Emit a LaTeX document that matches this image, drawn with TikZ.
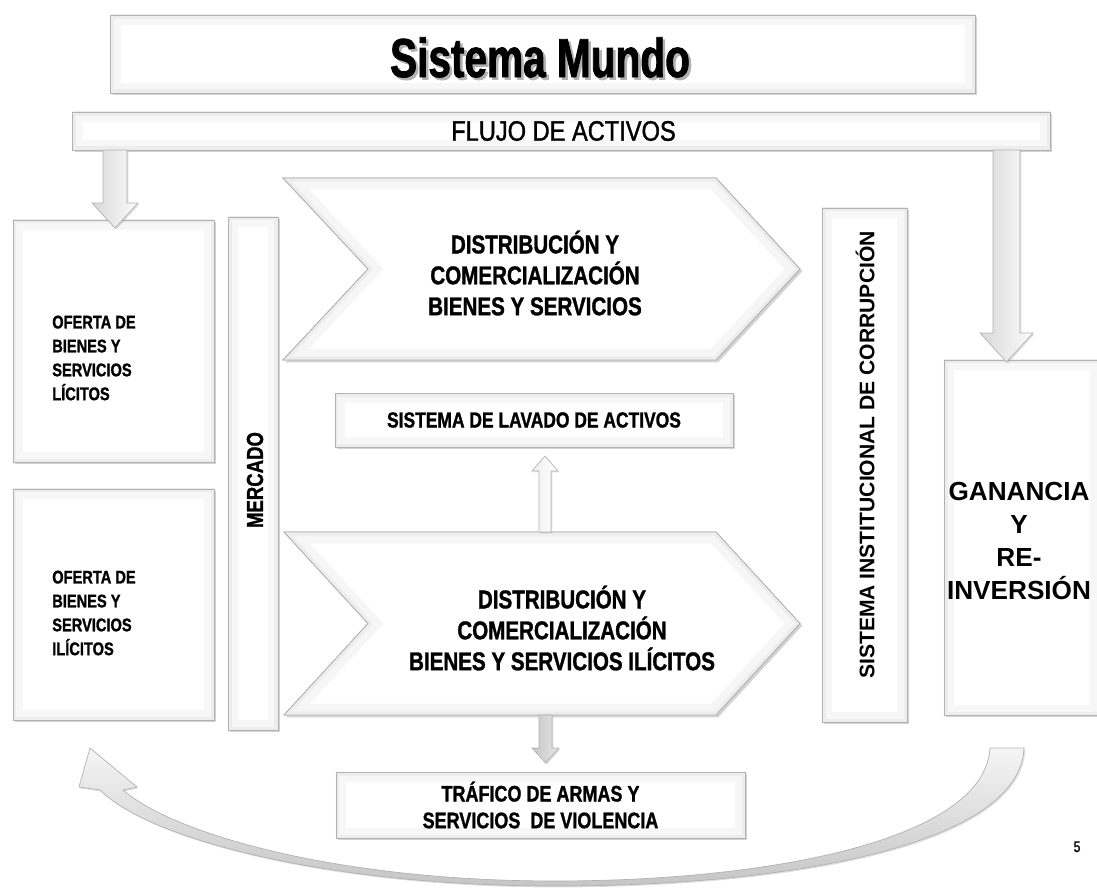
\documentclass[tikz,border=0pt]{standalone}
\usepackage{fontspec}
\setmainfont{Liberation Sans}
\newfontfamily\nar[FakeStretch=0.8, FakeBold=1.2]{Liberation Sans}
\newfontfamily\narr[FakeStretch=0.84, FakeBold=1.3]{Liberation Sans}
\newfontfamily\narx[FakeStretch=0.74, FakeBold=1.5]{Liberation Sans}
\usetikzlibrary{shadows,calc}
\tikzset{
  bevel/.style={path picture={
      \draw[line width=14pt, gray!6] (path picture bounding box.south west) rectangle (path picture bounding box.north east);
      \draw[line width=5pt, gray!14] (path picture bounding box.south west) rectangle (path picture bounding box.north east);}},
  box/.style={draw=gray!60, line width=0.6pt, fill=white, inner sep=0pt, align=center,
      drop shadow={shadow xshift=1.6pt, shadow yshift=-1.6pt, opacity=0.35}, bevel},
  blk/.style={draw=gray!60, line width=0.5pt, left color=gray!30, right color=gray!3,
      drop shadow={shadow xshift=1pt, shadow yshift=-1pt, opacity=0.25}},
  chev/.style={draw=gray!60, line width=0.6pt, fill=white,
      drop shadow={shadow xshift=1.6pt, shadow yshift=-1.6pt, opacity=0.35}},
  txt/.style={inner sep=0pt, align=center},
  small/.style={font=\nar\bfseries\fontsize{13}{17}\selectfont},
  mid/.style={font=\nar\bfseries\fontsize{18.3}{22}\selectfont},
}
\newcommand\chevU{(283,178) -- (716,178) -- (800,269) -- (716,360) -- (283,360) -- (368,269) -- cycle}
\newcommand\chevL{(284,532) -- (716,532) -- (800,623.5) -- (716,715) -- (284,715) -- (368,623.5) -- cycle}
\newcommand\titletext{Sistema Mundo}
\begin{document}
\begin{tikzpicture}[x=0.025cm, y=-0.025cm]
\useasboundingbox (0,0) rectangle (1097,889);

% top boxes
\node[box, minimum width=21.6cm, minimum height=1.95cm] (mundo) at (543,54) {};
\node[txt, anchor=base, font=\narx\bfseries\fontsize{39}{39}\selectfont] (title) at (540,77)
  {\rlap{\kern1.8pt\raisebox{-1.8pt}{\color{gray!60}\titletext}}\titletext};

\node[box, minimum width=24.425cm, minimum height=0.95cm, font=\narr\fontsize{20}{24}\selectfont] (flujo) at (561.5,131) {\hspace*{0.1cm}FLUJO DE ACTIVOS};

% left boxes
\node[box, minimum width=5.025cm, minimum height=6.05cm] (lic) at (113.5,341) {};
\node[txt, small, anchor=west, align=left] (lictxt) at (52,358) {OFERTA DE\\BIENES Y\\SERVICIOS\\LÍCITOS};
\node[box, minimum width=5.025cm, minimum height=5.775cm] (ilic) at (113.5,604.5) {};
\node[txt, small, anchor=west, align=left] (ilictxt) at (52,613) {OFERTA DE\\BIENES Y\\SERVICIOS\\ILÍCITOS};

\node[box, minimum width=1.25cm, minimum height=12.825cm] (mercado) at (253,473.5) {};
\node[txt, rotate=90, font=\nar\bfseries\fontsize{16.5}{18}\selectfont] (mertxt) at (255,480) {MERCADO};

% chevrons
\path[chev] \chevU;
\begin{scope}
  \clip \chevU;
  \draw[line width=16pt, gray!7] \chevU;
  \draw[line width=5pt, gray!14] \chevU;
\end{scope}
\draw[gray!60, line width=0.6pt] \chevU;
\node[txt, mid] (dist1) at (535,273) {DISTRIBUCIÓN Y\\COMERCIALIZACIÓN\\BIENES Y SERVICIOS};

\path[chev] \chevL;
\begin{scope}
  \clip \chevL;
  \draw[line width=16pt, gray!7] \chevL;
  \draw[line width=5pt, gray!14] \chevL;
\end{scope}
\draw[gray!60, line width=0.6pt] \chevL;
\node[txt, mid] (dist2) at (562,628) {DISTRIBUCIÓN Y\\COMERCIALIZACIÓN\\BIENES Y SERVICIOS ILÍCITOS};

\node[box, minimum width=9.95cm, minimum height=1.35cm, font=\nar\bfseries\fontsize{15.5}{18}\selectfont] (lavado) at (534,420) {SISTEMA DE LAVADO DE ACTIVOS};

\node[box, minimum width=10.225cm, minimum height=1.65cm, font=\nar\bfseries\fontsize{16}{19}\selectfont] (trafico) at (540.5,805) {TRÁFICO DE ARMAS Y\\SERVICIOS \ DE VIOLENCIA};

% right boxes
\node[box, minimum width=2.125cm, minimum height=12.85cm] (sic) at (864.5,465) {};
\node[txt, rotate=90, font=\bfseries\fontsize{15}{18}\selectfont] (sictxt) at (865,455) {SISTEMA INSTITUCIONAL DE CORRUPCIÓN};

\node[box, minimum width=3.9cm, minimum height=8.875cm] (gan) at (1022,537.5) {};
\node[txt, font=\bfseries\fontsize{18.6}{23.4}\selectfont] (gantxt) at (1019,541) {GANANCIA\\Y\\RE-\\INVERSIÓN};

% block arrows
\path[blk] (103,150) -- (103,203) -- (92,203) -- (115,228) -- (138,203) -- (127,203) -- (127,150) -- cycle;
\path[blk] (993,150) -- (993,333) -- (980,333) -- (1006.5,362) -- (1033,333) -- (1020,333) -- (1020,150) -- cycle;
\path[blk, left color=gray!12, right color=white] (539,532) -- (539,471) -- (532,471) -- (545,456) -- (558,471) -- (551,471) -- (551,532) -- cycle;
\path[blk, left color=gray!45, right color=gray!20] (539,715) -- (539,748) -- (532,748) -- (545.5,763) -- (559,748) -- (552,748) -- (552,715) -- cycle;

% curved return arrow
\path[draw=gray!60, line width=0.5pt, top color=gray!8, bottom color=gray!45,
      drop shadow={shadow xshift=1pt, shadow yshift=-1pt, opacity=0.25}]
  (1024,748) .. controls (1020,845) and (790,886) .. (555,886)
  .. controls (330,886) and (150,840) .. (100,790)
  -- (79,787) -- (90,748) -- (137,787) -- (123,790)
  .. controls (175,835) and (340,881) .. (555,881)
  .. controls (770,881) and (985,840) .. (990,748) -- cycle;

\node[txt, anchor=base, font=\nar\fontsize{11}{12}\selectfont] (pg) at (1077,852) {5};
\end{tikzpicture}
\end{document}
